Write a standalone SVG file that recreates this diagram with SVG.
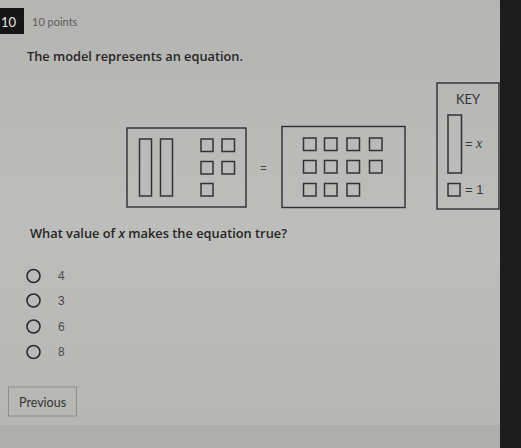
<svg xmlns="http://www.w3.org/2000/svg" width="521" height="448" viewBox="0 0 521 448">
<defs>
<linearGradient id="bg" x1="0" y1="0" x2="0" y2="1">
<stop offset="0" stop-color="#b4b4b2"/>
<stop offset="0.5" stop-color="#bdbdbb"/>
<stop offset="1" stop-color="#b6b6b4"/>
</linearGradient>
<style>
.box{fill:none;stroke:#2e2e2e;stroke-width:1.4}
.sq{fill:none;stroke:#333;stroke-width:1.5}
.t{font-family:"Open Sans","DejaVu Sans",sans-serif;fill:#262626;font-weight:600}
.opt{fill:none;stroke:#2a2a2a;stroke-width:1.6}
.num{font-family:"Liberation Sans",Arial,sans-serif;font-size:12px;fill:#4a4a4a}
.keyt{font-family:"Liberation Sans",Arial,sans-serif;font-size:13px;fill:#3a3a3a}
</style>
</defs>
<rect width="521" height="448" fill="url(#bg)"/>
<rect x="0" y="425" width="500" height="23" fill="#aeaeac"/>
<rect x="500" y="0" width="21" height="448" fill="#1d1d1d"/>

<g id="header">
<rect x="0" y="8" width="24" height="26" fill="#161616"/>
<text x="1" y="27" font-family="Lato,'Open Sans',sans-serif" font-size="13" fill="#e6e6e6">10</text>
<text x="32" y="26" font-family="Lato,'Open Sans',sans-serif" font-size="11" fill="#5a5a5a">10 points</text>
</g>

<text id="prompt" class="t" x="27" y="61" font-size="12.5" textLength="216" lengthAdjust="spacingAndGlyphs">The model represents an equation.</text>

<g id="left-side">
<rect class="box" x="127" y="128" width="119" height="79"/>
<rect class="sq" x="139.5" y="139" width="12" height="57"/>
<rect class="sq" x="160.5" y="139" width="12" height="57"/>
<rect class="sq" x="201" y="139" width="12" height="12.5"/>
<rect class="sq" x="222" y="139" width="12.5" height="12.5"/>
<rect class="sq" x="201" y="161.5" width="12" height="12.5"/>
<rect class="sq" x="222" y="161.5" width="12.5" height="12.5"/>
<rect class="sq" x="201" y="183.5" width="12" height="12.5"/>
</g>

<text id="equals" x="263.5" y="172" text-anchor="middle" font-family="Liberation Sans,Arial,sans-serif" font-size="11" fill="#444">=</text>

<g id="right-side">
<rect class="box" x="282" y="126.5" width="123" height="81"/>
<rect class="sq" x="303.5" y="138" width="12.5" height="12.5"/>
<rect class="sq" x="324.5" y="138" width="12.5" height="12.5"/>
<rect class="sq" x="347" y="138" width="12.5" height="12.5"/>
<rect class="sq" x="369.5" y="138" width="12.5" height="12.5"/>
<rect class="sq" x="303.5" y="160.5" width="12.5" height="12.5"/>
<rect class="sq" x="324.5" y="160.5" width="12.5" height="12.5"/>
<rect class="sq" x="347" y="160.5" width="12.5" height="12.5"/>
<rect class="sq" x="369.5" y="160.5" width="12.5" height="12.5"/>
<rect class="sq" x="303.5" y="183.5" width="12.5" height="12.5"/>
<rect class="sq" x="324.5" y="183.5" width="12.5" height="12.5"/>
<rect class="sq" x="347" y="183.5" width="12.5" height="12.5"/>
</g>

<g id="key">
<rect class="box" x="437" y="83" width="62" height="126"/>
<text x="468" y="104" text-anchor="middle" font-family="Lato,'Open Sans',sans-serif" font-size="13" fill="#333">KEY</text>
<rect class="sq" x="448" y="115" width="13.5" height="58"/>
<text class="keyt" x="465" y="148">=</text>
<text x="476" y="148" font-family="Liberation Serif,'Times New Roman',serif" font-style="italic" font-size="14" fill="#333">x</text>
<rect class="sq" x="448" y="183.5" width="12" height="12.5"/>
<text class="keyt" x="465" y="194">= 1</text>
</g>

<text id="question" class="t" x="30" y="238" font-size="12" textLength="257" lengthAdjust="spacingAndGlyphs">What value of <tspan font-style="italic">x</tspan> makes the equation true?</text>

<g id="options">
<circle class="opt" cx="33.5" cy="276" r="6.5"/>
<text class="num" x="58" y="280">4</text>
<circle class="opt" cx="33.5" cy="300.5" r="6.5"/>
<text class="num" x="58" y="305">3</text>
<circle class="opt" cx="33.5" cy="326.5" r="6.5"/>
<text class="num" x="58" y="331">6</text>
<circle class="opt" cx="33.5" cy="352" r="6.5"/>
<text class="num" x="58" y="356">8</text>
</g>

<g id="previous">
<rect x="8.5" y="387" width="68" height="29" fill="none" stroke="#8e8e8c" stroke-width="1"/>
<text x="19" y="407" font-family="Lato,'Open Sans',sans-serif" font-size="12.5" fill="#333">Previous</text>
</g>
</svg>
